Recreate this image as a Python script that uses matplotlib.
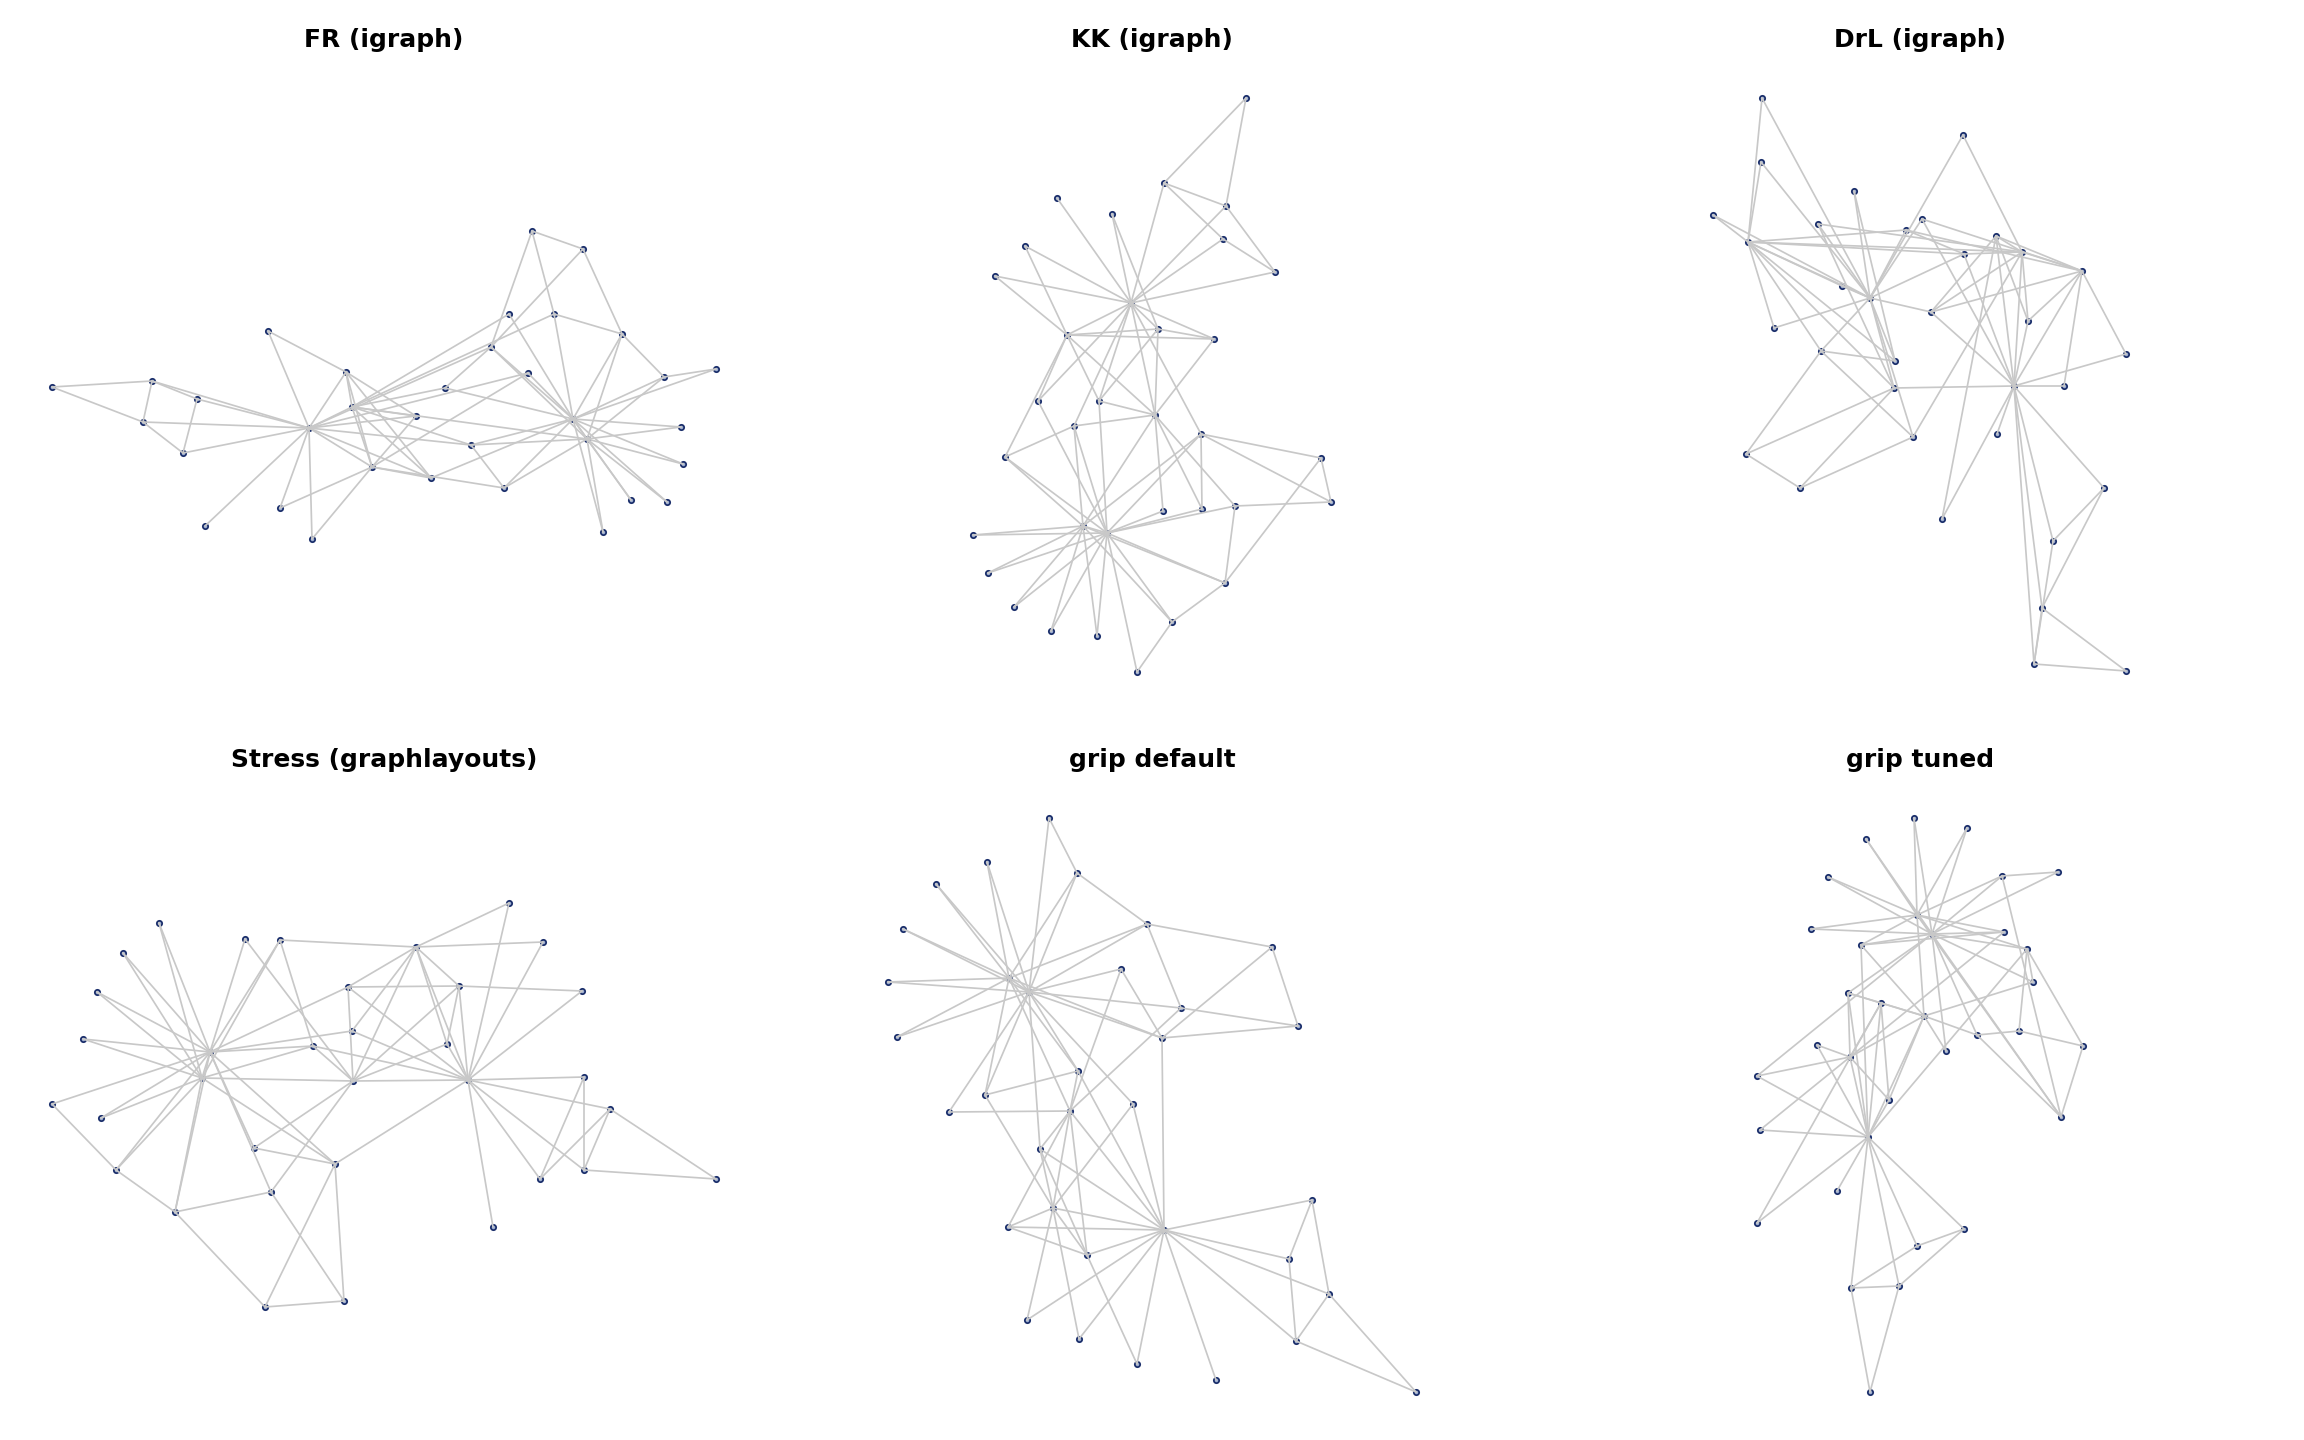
import matplotlib
matplotlib.use("Agg")
import matplotlib.pyplot as plt

# Zachary karate club edges (node ids 0..33)
edges = [
    (0, 1), (0, 2), (0, 3), (0, 4), (0, 5), (0, 6), (0, 7), (0, 8), (0, 10), (0, 11),
    (0, 12), (0, 13), (0, 17), (0, 19), (0, 21), (0, 31), (1, 2), (1, 3), (1, 7), (1, 13),
    (1, 17), (1, 19), (1, 21), (1, 30), (2, 3), (2, 7), (2, 8), (2, 9), (2, 13), (2, 27),
    (2, 28), (2, 32), (3, 7), (3, 12), (3, 13), (4, 6), (4, 10), (5, 6), (5, 10), (5, 16),
    (6, 16), (8, 30), (8, 32), (8, 33), (9, 33), (13, 33), (14, 32), (14, 33), (15, 32), (15, 33),
    (18, 32), (18, 33), (19, 33), (20, 32), (20, 33), (22, 32), (22, 33), (23, 25), (23, 27), (23, 29),
    (23, 32), (23, 33), (24, 25), (24, 27), (24, 31), (25, 31), (26, 29), (26, 33), (27, 33), (28, 31),
    (28, 33), (29, 32), (29, 33), (30, 32), (30, 33), (31, 32), (31, 33), (32, 33),
]

# node positions (pixels, y down), indexed by node id
fr_x = [309, 372, 352, 346, 197, 143, 152, 416, 471, 509, 183, 205, 268, 431, 681, 683, 52,
        280, 631, 528, 667, 312, 603, 622, 532, 583, 716, 554, 445, 664, 504, 491, 587, 573]
fr_y = [428, 467, 407, 372, 399, 422, 381, 416, 445, 314, 453, 526, 331, 478, 427, 464, 387,
        508, 500, 373, 502, 539, 532, 334, 231, 249, 369, 314, 388, 377, 488, 347, 439, 419]

kk_x = [1131, 1067, 1155, 1158, 1275, 1164, 1226, 1214, 1074, 1163, 1223, 1057, 1112, 1099, 973, 988, 1246,
        1025, 1014, 1038, 1051, 995, 1097, 1225, 1331, 1321, 1137, 1235, 1202, 1172, 1005, 1201, 1083, 1107]
kk_y = [303, 335, 415, 329, 272, 183, 206, 339, 426, 511, 239, 198, 214, 401, 535, 573, 98,
        246, 607, 401, 631, 276, 636, 583, 502, 458, 672, 506, 509, 622, 457, 434, 526, 533]

drl_x = [2014, 2082, 2022, 1996, 2104, 2034, 2042, 2028, 1964, 1963, 2053, 1997, 1942, 1931, 1762, 1761, 2126,
         2126, 1713, 1922, 1774, 2064, 1842, 1821, 1800, 1746, 1854, 1913, 1818, 1895, 1906, 1894, 1748, 1870]
drl_y = [386, 271, 252, 236, 488, 664, 608, 321, 254, 135, 541, 434, 519, 312, 98, 162, 671,
         354, 215, 219, 328, 386, 286, 351, 488, 454, 191, 437, 224, 361, 230, 388, 242, 298]

stress_x = [468, 416, 353, 459, 584, 610, 584, 447, 313, 245, 540, 493, 582, 348, 159, 123, 716,
            509, 97, 352, 83, 543, 101, 175, 344, 265, 52, 271, 254, 116, 280, 335, 202, 210]
stress_y = [1080, 947, 1081, 986, 1077, 1109, 1170, 1044, 1046, 939, 1179, 1227, 991, 987, 923, 953, 1179,
            903, 992, 1031, 1039, 942, 1118, 1212, 1301, 1307, 1104, 1192, 1148, 1170, 940, 1164, 1078, 1052]

gripd_x = [1164, 1053, 1070, 1087, 1289, 1329, 1296, 1008, 1078, 949, 1312, 1216, 1137, 1040, 987, 936, 1416,
           1027, 903, 1133, 888, 1079, 897, 1147, 1298, 1272, 1049, 1181, 1121, 1077, 985, 1162, 1009, 1029]
gripd_y = [1230, 1208, 1111, 1255, 1259, 1294, 1341, 1227, 1071, 1112, 1200, 1380, 1364, 1149, 862, 884, 1392,
           1320, 929, 1104, 982, 1339, 1037, 924, 1026, 947, 818, 1008, 969, 873, 1095, 1038, 978, 992]

gript_x = [1868, 1850, 1924, 1881, 1964, 1851, 1899, 1889, 1861, 1946, 1917, 1837, 1757, 1848, 1914, 1967, 1870,
           1760, 1866, 1757, 1828, 1817, 1811, 2061, 2019, 2083, 2058, 1977, 2033, 2002, 2004, 2027, 1917, 1932]
gript_y = [1137, 1057, 1016, 1003, 1229, 1288, 1286, 1100, 945, 1051, 1246, 1191, 1223, 993, 818, 828, 1392,
           1130, 839, 1076, 877, 1045, 929, 1117, 1031, 1046, 872, 1035, 982, 876, 932, 949, 915, 934]

titles = ["FR (igraph)", "KK (igraph)", "DrL (igraph)",
          "Stress (graphlayouts)", "grip default", "grip tuned"]
layouts = [(fr_x, fr_y), (kk_x, kk_y), (drl_x, drl_y),
           (stress_x, stress_y), (gripd_x, gripd_y), (gript_x, gript_y)]

fig, axes = plt.subplots(2, 3, figsize=(16, 10), dpi=144)
fig.subplots_adjust(left=0, right=1, bottom=0, top=1, wspace=0, hspace=0)

for k, ax in enumerate(axes.flat):
    r, c = divmod(k, 3)
    xs, ys = layouts[k]
    for a, b in edges:
        ax.plot([xs[a], xs[b]], [ys[a], ys[b]], color="#c8c8c8", lw=0.85,
                solid_capstyle="round", zorder=2)
    ax.scatter(xs, ys, s=7, facecolor="#9fb0d2", edgecolor="#1b2f6b",
               linewidths=0.9, zorder=1)
    ax.set_xlim(c * 768, (c + 1) * 768)
    ax.set_ylim((r + 1) * 720, r * 720)
    ax.axis("off")
    ax.text(0.5, 1 - 40 / 720, titles[k], transform=ax.transAxes, ha="center",
            va="center", fontsize=12.5, fontweight="bold")

fig.savefig("out.png", dpi=144, facecolor="white")
